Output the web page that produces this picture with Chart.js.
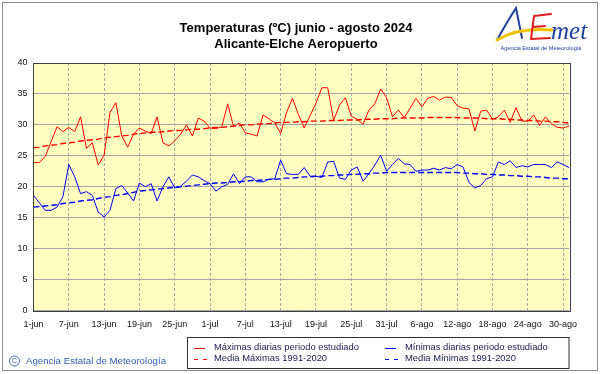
<!DOCTYPE html>
<html>
<head>
<meta charset="utf-8">
<script src="https://cdn.jsdelivr.net/npm/chart.js@4.4.1/dist/chart.umd.min.js"></script>
<style>
  html, body { margin: 0; padding: 0; background: #fff; }
</style>
</head>
<body>
<canvas id="myChart" width="601" height="374"></canvas>
<script>
const FONT = '"Liberation Sans", Arial, sans-serif';

// one category per day, 1-jun .. 31-ago
const months = [['jun', 30], ['jul', 31], ['ago', 31]];
const days = [];
months.forEach(([m, n]) => { for (let d = 1; d <= n; d++) days.push(`${d}-${m}`); });

const tickLabels = ['1-jun', '7-jun', '13-jun', '19-jun', '25-jun', '1-jul', '7-jul', '13-jul',
    '19-jul', '25-jul', '31-jul', '6-ago', '12-ago', '18-ago', '24-ago', '30-ago'];

const maxDaily = [
    23.9, 23.9, 24.9, 27.3, 29.7, 28.9, 29.6, 28.9, 31.3, 26.2,
    27.1, 23.5, 25.1, 32.0, 33.6, 28.2, 26.4, 28.5, 29.5, 29.0,
    28.6, 31.3, 27.1, 26.6, 27.4, 28.5, 30.0, 28.2, 31.1, 30.6,
    29.5, 29.4, 29.7, 33.4, 29.7, 30.3, 28.7, 28.5, 28.2, 31.6,
    31.0, 30.3, 28.6, 32.0, 34.3, 31.7, 29.5, 31.5, 33.5, 36.0,
    36.0, 30.7, 33.2, 34.4, 31.4, 30.9, 30.1, 32.4, 33.4, 35.8,
    34.4, 31.3, 32.4, 31.2, 32.7, 34.3, 32.9, 34.3, 34.6, 34.0,
    34.5, 34.4, 33.1, 32.7, 32.6, 29.0, 32.2, 32.4, 30.9, 31.3,
    32.4, 30.4, 32.8, 30.6, 30.6, 31.6, 29.9, 31.3, 30.2, 29.6,
    29.5, 29.8
];

const minDaily = [
    18.6, 17.4, 16.2, 16.2, 16.7, 18.4, 23.6, 21.6, 18.9, 19.2,
    18.6, 15.9, 15.1, 16.2, 19.7, 20.2, 19.0, 17.7, 20.6, 20.0,
    20.5, 17.7, 20.0, 21.6, 19.8, 20.1, 20.9, 21.9, 21.6, 21.0,
    20.5, 19.3, 20.0, 20.4, 22.1, 20.5, 21.6, 21.6, 20.8, 20.8,
    21.2, 21.3, 24.3, 22.1, 22.0, 22.0, 23.1, 21.7, 21.7, 21.5,
    24.0, 24.1, 21.4, 21.2, 22.7, 23.2, 20.9, 22.1, 23.5, 25.1,
    22.5, 23.6, 24.6, 23.7, 23.6, 22.5, 22.7, 22.7, 23.0, 22.7,
    23.1, 22.9, 23.6, 23.2, 20.7, 19.8, 20.2, 21.3, 21.6, 24.0,
    23.6, 24.2, 23.1, 23.4, 23.2, 23.6, 23.6, 23.6, 23.1, 24.0,
    23.6, 23.1
];

const maxNormal = [
    26.3, 26.4, 26.6, 26.7, 26.8, 27.0, 27.1, 27.2, 27.4, 27.5,
    27.6, 27.7, 27.9, 28.0, 28.1, 28.2, 28.3, 28.5, 28.6, 28.7,
    28.8, 28.8, 28.9, 29.0, 29.1, 29.1, 29.2, 29.3, 29.3, 29.4,
    29.5, 29.6, 29.6, 29.7, 29.8, 29.9, 30.0, 30.0, 30.1, 30.2,
    30.2, 30.3, 30.4, 30.4, 30.4, 30.5, 30.5, 30.6, 30.6, 30.6,
    30.7, 30.7, 30.7, 30.8, 30.8, 30.8, 30.9, 30.9, 30.9, 31.0,
    31.0, 31.0, 31.1, 31.1, 31.1, 31.1, 31.1, 31.2, 31.2, 31.2,
    31.2, 31.2, 31.2, 31.1, 31.1, 31.1, 31.1, 31.0, 31.0, 31.0,
    30.9, 30.9, 30.8, 30.8, 30.7, 30.7, 30.6, 30.6, 30.5, 30.5,
    30.4, 30.3
];

const minNormal = [
    16.7, 16.8, 16.9, 17.0, 17.1, 17.3, 17.4, 17.5, 17.7, 17.8,
    17.9, 18.1, 18.3, 18.4, 18.6, 18.7, 18.9, 19.1, 19.3, 19.4,
    19.5, 19.6, 19.7, 19.8, 19.9, 20.0, 20.1, 20.2, 20.3, 20.4,
    20.5, 20.6, 20.6, 20.7, 20.8, 20.8, 20.9, 21.0, 21.0, 21.1,
    21.2, 21.2, 21.3, 21.4, 21.4, 21.5, 21.6, 21.6, 21.7, 21.7,
    21.8, 21.8, 21.9, 21.9, 22.0, 22.0, 22.1, 22.1, 22.2, 22.2,
    22.3, 22.3, 22.3, 22.3, 22.3, 22.3, 22.3, 22.3, 22.3, 22.3,
    22.3, 22.3, 22.3, 22.2, 22.2, 22.1, 22.1, 22.0, 22.0, 21.9,
    21.9, 21.8, 21.8, 21.7, 21.7, 21.6, 21.6, 21.5, 21.4, 21.4,
    21.3, 21.3
];

const isTick = i => tickLabels.includes(days[i]);

const decor = {
    id: 'decor',
    beforeDraw(chart) {
        const { ctx, chartArea: a } = chart;
        ctx.save();
        ctx.fillStyle = '#fff';
        ctx.fillRect(0, 0, chart.width, chart.height);
        ctx.fillStyle = '#ffffc0';
        ctx.fillRect(a.left, a.top, a.right - a.left, a.bottom - a.top);
        ctx.restore();
    },
    afterDraw(chart) {
        const { ctx, chartArea: a } = chart;
        const ds = chart.data.datasets;
        ctx.save();

        // plot frame + outer frame
        ctx.strokeStyle = '#404040';
        ctx.lineWidth = 1;
        ctx.strokeRect(Math.round(a.left) - 0.5, Math.round(a.top) + 0.5,
            Math.round(a.right - a.left) + 1, Math.round(a.bottom - a.top));
        ctx.strokeStyle = '#8a8a8a';
        ctx.strokeRect(2.5, 2.5, 595, 368);

        // title
        ctx.fillStyle = '#000';
        ctx.textAlign = 'center';
        ctx.textBaseline = 'alphabetic';
        ctx.font = `bold 13px ${FONT}`;
        ctx.fillText('Temperaturas (ºC) junio - agosto 2024', 296, 31.5);
        ctx.fillText('Alicante-Elche Aeropuerto', 296, 47.5);

        // logo
        ctx.lineCap = 'round';
        ctx.strokeStyle = '#2040a0';
        ctx.lineWidth = 2;
        ctx.beginPath();
        ctx.moveTo(497, 40);
        ctx.quadraticCurveTo(507, 22, 516, 8);
        ctx.lineTo(522, 38);
        ctx.stroke();
        ctx.strokeStyle = '#f2c200';
        ctx.lineWidth = 3;
        ctx.beginPath();
        ctx.moveTo(497, 40);
        ctx.quadraticCurveTo(518, 27, 552, 30);
        ctx.stroke();
        ctx.strokeStyle = '#e02020';
        ctx.lineWidth = 2;
        ctx.beginPath();
        ctx.moveTo(534, 16); ctx.lineTo(531, 39);
        ctx.moveTo(534, 16); ctx.lineTo(551, 14);
        ctx.moveTo(533, 27); ctx.lineTo(545, 26);
        ctx.moveTo(531, 39); ctx.lineTo(550, 38);
        ctx.stroke();
        ctx.fillStyle = '#2040a0';
        ctx.textAlign = 'left';
        ctx.font = 'italic 25px "Liberation Serif", serif';
        ctx.fillText('met', 551, 39);
        ctx.font = `5.6px ${FONT}`;
        ctx.textAlign = 'center';
        ctx.fillText('Agencia Estatal de Meteorología', 541, 50);
        ctx.lineCap = 'butt';

        // legend box
        ctx.strokeStyle = '#303030';
        ctx.lineWidth = 1;
        ctx.strokeRect(187.5, 337.5, 381.5, 31);
        ctx.font = `9.4px ${FONT}`;
        ctx.textAlign = 'left';
        ctx.textBaseline = 'middle';
        const cols = [194, 385];
        const rows = [347.7, 358.7];
        ds.forEach((d, i) => {
            const x = cols[i % 2];
            const y = Math.round(rows[Math.floor(i / 2)]) + 0.5;
            ctx.strokeStyle = d.borderColor;
            ctx.lineWidth = 1;
            ctx.beginPath();
            if (d.borderDash) {
                ctx.moveTo(x, y); ctx.lineTo(x + 4, y);
                ctx.moveTo(x + 9, y); ctx.lineTo(x + 13, y);
            } else {
                ctx.moveTo(x, y); ctx.lineTo(x + 11, y);
            }
            ctx.stroke();
            ctx.fillStyle = '#1a1a50';
            ctx.fillText(d.label, x + 20, rows[Math.floor(i / 2)]);
        });

        // copyright
        ctx.strokeStyle = '#3060b0';
        ctx.fillStyle = '#3060b0';
        ctx.lineWidth = 0.9;
        ctx.beginPath();
        ctx.arc(14.5, 361, 5, 0, Math.PI * 2);
        ctx.stroke();
        ctx.font = `7px ${FONT}`;
        ctx.textAlign = 'center';
        ctx.fillText('C', 14.5, 361.5);
        ctx.font = `9.7px ${FONT}`;
        ctx.textAlign = 'left';
        ctx.fillText('Agencia Estatal de Meteorología', 26, 361.5);

        ctx.restore();
    }
};

const ctx = document.getElementById('myChart').getContext('2d');
const chart = new Chart(ctx, {
    type: 'line',
    data: {
        labels: days,
        datasets: [
            {
                label: 'Máximas diarias periodo estudiado',
                data: maxDaily,
                borderColor: '#ff0000',
                borderWidth: 1,
            },
            {
                label: 'Mínimas diarias periodo estudiado',
                data: minDaily,
                borderColor: '#0000ff',
                borderWidth: 1,
            },
            {
                label: 'Media Máximas 1991-2020',
                data: maxNormal,
                borderColor: '#ff0000',
                borderWidth: 1.4,
                borderDash: [6, 3],
            },
            {
                label: 'Media Mínimas 1991-2020',
                data: minNormal,
                borderColor: '#0000ff',
                borderWidth: 1.4,
                borderDash: [6, 3],
            },
        ]
    },
    options: {
        responsive: false,
        animation: false,
        devicePixelRatio: 1,
        layout: { padding: { top: 63, right: 32, left: 0, bottom: 0 } },
        elements: {
            point: { radius: 0 },
            line: { tension: 0, fill: false },
        },
        plugins: {
            legend: { display: false },
            tooltip: { enabled: false },
        },
        scales: {
            x: {
                type: 'category',
                offset: false,
                grid: {
                    color: c => isTick(c.index) ? '#a8a8a8' : 'rgba(0,0,0,0)',
                    drawTicks: false,
                },
                border: { display: false, dash: [3, 2] },
                ticks: {
                    autoSkip: false,
                    maxRotation: 0,
                    padding: 9,
                    color: '#111',
                    font: { family: FONT, size: 9 },
                    callback: (v, i) => isTick(i) ? days[i] : '',
                },
                afterFit: s => { s.height = 63.5; },
            },
            y: {
                min: 0,
                max: 40,
                grid: { color: '#a4a4a4', drawTicks: false },
                border: { display: false },
                ticks: {
                    stepSize: 5,
                    padding: 6,
                    color: '#111',
                    font: { family: FONT, size: 9 },
                },
                afterFit: s => { s.width = 33.5; },
            },
        },
    },
    plugins: [decor],
});
</script>
</body>
</html>
